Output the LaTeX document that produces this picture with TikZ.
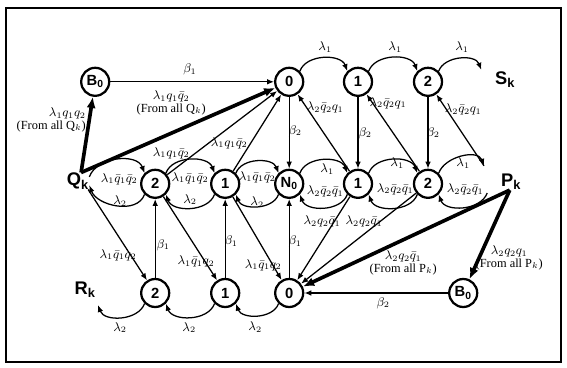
\documentclass[tikz,border=0pt]{standalone}
\usepackage{fontspec}
\setmainfont{Liberation Serif}
\newfontfamily\helv{Liberation Sans}
\usepackage{amsmath}
\usepackage{tikz}
\usetikzlibrary{calc}
\usetikzlibrary{arrows.meta}

\begin{document}
\begin{tikzpicture}[
        st/.style={circle,draw,line width=1.6pt,minimum size=7mm,inner sep=0pt,font=\helv\bfseries\fontsize{10.5}{12}\selectfont},
        big/.style={inner sep=0pt,font=\helv\bfseries\fontsize{13}{15}\selectfont},
        lab/.style={inner sep=0pt,font=\fontsize{8.8}{8.8}\selectfont},
        arr/.style={-{Latex[length=5pt,width=4pt]},line width=0.9pt},
        fat/.style={-{Latex[length=8pt,width=6.5pt]},line width=2.6pt},
        hump/.style={out=70,in=110,looseness=1.0},
        dip/.style={out=-110,in=-70,looseness=1.0}]
        \useasboundingbox (0,0) rectangle (14.175,9.175);
        \draw[line width=1.2pt] (0.15,0.13) rectangle (14.02,8.98);

        % top line
        \node[st] (b0t) at (2.38,7.13) {B\textsubscript{0}};
        \node[st] (t0) at (7.23,7.13) {0};
        \node[st] (t1) at (8.95,7.13) {1};
        \node[st] (t2) at (10.70,7.13) {2};
        \node[big] (sk) at (12.63,7.18) {S\textsubscript{k}};
        \coordinate (send) at (12.03,7.43);
        % middle line
        \node[big] (qk) at (1.95,4.65) {Q\textsubscript{k}};
        \node[st] (m2l) at (3.88,4.58) {2};
        \node[st] (m1l) at (5.63,4.58) {1};
        \node[st] (n0) at (7.23,4.58) {N\textsubscript{0}};
        \node[st] (m1r) at (8.95,4.58) {1};
        \node[st] (m2r) at (10.70,4.58) {2};
        \node[big] (pk) at (12.78,4.63) {P\textsubscript{k}};
        \coordinate (pup) at (12.10,5.03);
        \coordinate (plow) at (12.18,4.35);
        % bottom line
        \node[big] (rk) at (2.13,1.93) {R\textsubscript{k}};
        \coordinate (rend) at (2.45,1.55);
        \node[st] (b2) at (3.88,1.85) {2};
        \node[st] (b1) at (5.63,1.85) {1};
        \node[st] (b0) at (7.23,1.85) {0};
        \node[st] (b0b) at (11.58,1.85) {B\textsubscript{0}};

        % top line edges
        \draw[arr] (b0t) -- (t0);
        \draw[fat] (qk.70) -- (b0t);
        \draw[fat] (qk.70) -- (t0);
        \draw[arr] (t0.45) to[hump] (t1.135);
        \draw[arr] (t1.45) to[hump] (t2.135);
        \draw[arr] (t2.45) to[hump] (send);
        \draw[arr] (t0) -- (n0);
        \draw[arr] (t1) -- (m1r);
        \draw[arr] (t2) -- (m2r);
        \draw[arr] (m1r) -- (t0);
        \draw[arr] (m2r) -- (t1);
        \draw[arr] (pup) -- (t2);
        \draw[arr] (m2l) -- (t0);
        \draw[arr] (m1l) -- (t0);
        % middle line edges
        \draw[arr] (qk.20) to[hump] (m2l.135);
        \draw[arr] (m2l.-135) to[dip] (qk.-20);
        \draw[arr] (m2l.45) to[hump] (m1l.135);
        \draw[arr] (m1l.-135) to[dip] (m2l.-45);
        \draw[arr] (m1l.45) to[hump] (n0.135);
        \draw[arr] (n0.-135) to[dip] (m1l.-45);
        \draw[arr] (n0.45) to[hump] (m1r.135);
        \draw[arr] (m1r.-135) to[dip] (n0.-45);
        \draw[arr] (m1r.45) to[hump] (m2r.135);
        \draw[arr] (m2r.-135) to[dip] (m1r.-45);
        \draw[arr] (m2r.45) to[hump] (pup);
        \draw[arr] (plow) to[dip] (m2r.-45);
        % bottom line edges
        \draw[arr] (b2) -- (m2l);
        \draw[arr] (b1) -- (m1l);
        \draw[arr] (b0) -- (n0);
        \draw[arr] (qk.-40) -- (b2);
        \draw[arr] (m2l) -- (b1);
        \draw[arr] (m1l) -- (b0);
        \draw[arr] (m1r) -- (b0);
        \draw[arr] (m2r) -- (b0);
        \draw[fat] (pk.260) -- (b0);
        \draw[fat] (pk.260) -- (b0b);
        \draw[arr] (b0b) -- (b0);
        \draw[arr] (b2.-135) to[dip] (rend);
        \draw[arr] (b1.-135) to[dip] (b2.-45);
        \draw[arr] (b0.-135) to[dip] (b1.-45);

        % top line labels
        \node[lab] (l1) at (4.75,7.43) {$\beta_1$};
        \node[lab,align=right,anchor=east] (l2) at (2.15,6.18) {$\lambda_1q_1q_2$\\(From all Q$_k$)};
        \node[lab,align=center] (l3) at (4.28,6.60) {$\lambda_1q_1\bar{q}_2$\\(From all Q$_k$)};
        \node[lab] (l4) at (8.13,8.00) {$\lambda_1$};
        \node[lab] (l5) at (9.88,8.00) {$\lambda_1$};
        \node[lab] (l6) at (11.55,8.00) {$\lambda_1$};
        \node[lab] (l7) at (7.38,5.90) {$\beta_2$};
        \node[lab] (l8) at (9.13,5.85) {$\beta_2$};
        \node[lab] (l9) at (10.83,5.85) {$\beta_2$};
        \node[lab] (l10) at (8.13,6.48) {$\lambda_2\bar{q}_2q_1$};
        \node[lab] (l11) at (9.70,6.60) {$\lambda_2\bar{q}_2q_1$};
        \node[lab] (l12) at (11.58,6.43) {$\lambda_2\bar{q}_2q_1$};
        \node[lab] (l13) at (4.28,5.35) {$\lambda_1q_1\bar{q}_2$};
        \node[lab] (l14) at (5.73,5.60) {$\lambda_1q_1\bar{q}_2$};
        % middle line labels
        \node[lab] (l15) at (2.98,4.70) {$\lambda_1\bar{q}_1\bar{q}_2$};
        \node[lab] (l16) at (3.00,4.15) {$\lambda_2$};
        \node[lab] (l17) at (4.75,4.72) {$\lambda_1\bar{q}_1\bar{q}_2$};
        \node[lab] (l18) at (4.75,4.18) {$\lambda_2$};
        \node[lab] (l19) at (6.43,4.75) {$\lambda_1\bar{q}_1\bar{q}_2$};
        \node[lab] (l20) at (6.43,4.12) {$\lambda_2$};
        \node[lab] (l21) at (8.18,4.95) {$\lambda_1$};
        \node[lab] (l22) at (8.13,4.38) {$\lambda_2\bar{q}_2\bar{q}_1$};
        \node[lab] (l23) at (9.93,5.10) {$\lambda_1$};
        \node[lab] (l24) at (9.88,4.45) {$\lambda_2\bar{q}_2\bar{q}_1$};
        \node[lab] (l25) at (11.58,5.10) {$\lambda_1$};
        \node[lab] (l26) at (11.63,4.43) {$\lambda_2\bar{q}_2\bar{q}_1$};
        % bottom line labels
        \node[lab] (l27) at (4.08,3.05) {$\beta_1$};
        \node[lab] (l28) at (5.78,3.13) {$\beta_1$};
        \node[lab] (l29) at (7.38,3.13) {$\beta_1$};
        \node[lab] (l30) at (2.95,2.80) {$\lambda_1\bar{q}_1q_2$};
        \node[lab] (l31) at (4.90,2.63) {$\lambda_1\bar{q}_1q_2$};
        \node[lab] (l32) at (6.58,2.55) {$\lambda_1\bar{q}_1q_2$};
        \node[lab] (l33) at (8.05,3.63) {$\lambda_2q_2\bar{q}_1$};
        \node[lab] (l34) at (9.10,3.63) {$\lambda_2q_2\bar{q}_1$};
        \node[lab,align=center] (l35) at (10.08,2.60) {$\lambda_2q_2\bar{q}_1$\\(From all P$_k$)};
        \node[lab,align=center] (l36) at (12.73,2.73) {$\lambda_2q_2q_1$\\(From all P$_k$)};
        \node[lab] (l37) at (9.58,1.60) {$\beta_2$};
        \node[lab] (l38) at (3.00,0.98) {$\lambda_2$};
        \node[lab] (l39) at (4.73,0.98) {$\lambda_2$};
        \node[lab] (l40) at (6.38,1.00) {$\lambda_2$};
    \end{tikzpicture}
\end{document}
